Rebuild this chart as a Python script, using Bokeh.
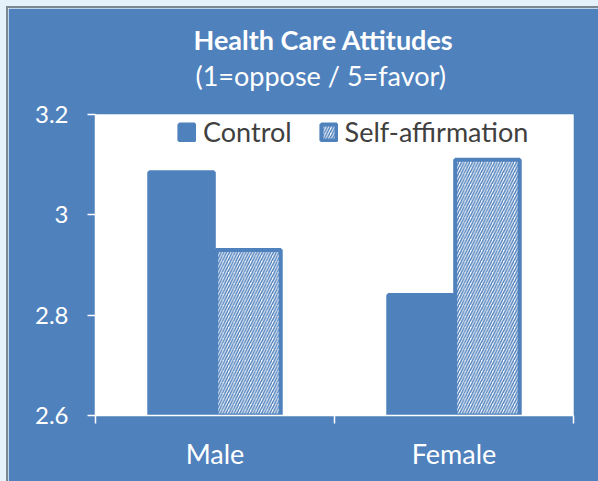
from bokeh.plotting import figure
from bokeh.models import (Range1d, LinearAxis, FixedTicker, CustomJSTickFormatter, GlobalInlineStyleSheet,
                          Title, Legend, LegendItem, PrintfTickFormatter, ColumnDataSource)
from bokeh.transform import dodge
from bokeh.embed import file_html
from bokeh.resources import INLINE

# ---- data ----
genders = ["Male", "Female"]
series = ["Control", "Self-affirmation"]
control = [3.085, 2.84]
self_affirmation = [2.93, 3.11]
y_ticks = [2.6, 2.8, 3.0, 3.2]
title_text = "Health Care Attitudes"
subtitle_text = "(1=oppose  / 5=favor)"

BLUE = "#4F81BD"
FONT = "Lato"
DARK = "#404040"

n = len(genders)
centers = [i + 0.5 for i in range(n)]
src = ColumnDataSource(dict(x=centers, g=genders, c=control, s=self_affirmation))

p = figure(x_range=Range1d(0, n), y_range=Range1d(y_ticks[0], y_ticks[-1]),
           frame_width=478, frame_height=301,
           min_border_left=87, min_border_right=25, min_border_top=106, min_border_bottom=66,
           output_backend="svg", toolbar_location=None, x_axis_location=None, title=None)

p.stylesheets = [GlobalInlineStyleSheet(css="html, body { background-color: #E6F2FA; }")]
p.styles = {"margin-left": "6px", "margin-top": "6px",
            "border-left": "2px solid #7B8791", "border-top": "2px solid #7B8791"}

p.background_fill_color = "white"
p.border_fill_color = BLUE
p.outline_line_color = None
p.ygrid.grid_line_color = None
p.xgrid.grid_line_color = None

bw = 0.27
r1 = p.vbar(x=dodge("x", -0.14), top="c", bottom=y_ticks[0], width=bw,
            fill_color=BLUE, line_color=BLUE, line_width=4, source=src)
r2 = p.vbar(x=dodge("x", 0.14), top="s", bottom=y_ticks[0], width=bw,
            fill_color="white", line_color=BLUE, line_width=4,
            hatch_pattern="/", hatch_color=BLUE, hatch_scale=5.5, hatch_weight=1.5, source=src)

# y axis
ya = p.yaxis[0]
ya.ticker = FixedTicker(ticks=y_ticks)
ya.formatter = PrintfTickFormatter(format="%g")
ya.axis_line_color = "white"
ya.axis_line_width = 1.5
ya.major_tick_line_color = "white"
ya.major_tick_line_width = 1.5
ya.major_tick_out = 8
ya.major_tick_in = 0
ya.minor_tick_line_color = None
ya.major_label_text_color = "white"
ya.major_label_text_font = FONT
ya.major_label_text_font_size = "24px"
ya.major_label_standoff = 19

# x axes: boundary ticks (no labels) + category labels
tick_axis = LinearAxis(ticker=FixedTicker(ticks=list(range(n + 1))),
                       formatter=CustomJSTickFormatter(code="return '';"),
                       axis_line_color="white", axis_line_width=1.5,
                       major_tick_line_color="white", major_tick_line_width=1.5,
                       major_tick_out=8, major_tick_in=0, minor_tick_line_color=None,
                       major_label_standoff=0)
p.add_layout(tick_axis, "below")
cat_axis = LinearAxis(ticker=FixedTicker(ticks=centers),
                      formatter=CustomJSTickFormatter(args=dict(names=genders),
                                                      code="return names[Math.floor(tick)] || '';"),
                      axis_line_color=None, major_tick_line_color=None, minor_tick_line_color=None,
                      major_label_text_color="white", major_label_text_font=FONT,
                      major_label_text_font_size="27px", major_label_standoff=7)
p.add_layout(cat_axis, "below")

# titles (spacer, subtitle, title from the frame upwards)
spacer = Title(text=" ", text_font_size="1px", standoff=19)
sub = Title(text=subtitle_text, align="left", offset=100, text_color="white", text_font=FONT,
            text_font_size="27px", text_font_style="normal", standoff=2)
main = Title(text=title_text, align="left", offset=98, text_color="white", text_font=FONT,
             text_font_size="27px", text_font_style="bold", standoff=0)
p.add_layout(spacer, "above")
p.add_layout(sub, "above")
p.add_layout(main, "above")

legend = Legend(items=[LegendItem(label=series[0], renderers=[r1]),
                       LegendItem(label=series[1], renderers=[r2])],
                orientation="horizontal", location=(82, 267),
                padding=0, margin=0, spacing=27, label_standoff=7,
                glyph_width=19, glyph_height=20, label_height=30,
                border_line_color=None, background_fill_alpha=0,
                label_text_font=FONT, label_text_font_size="27px", label_text_color=DARK)
p.add_layout(legend)

open("out.html", "w").write(file_html(p, INLINE))
